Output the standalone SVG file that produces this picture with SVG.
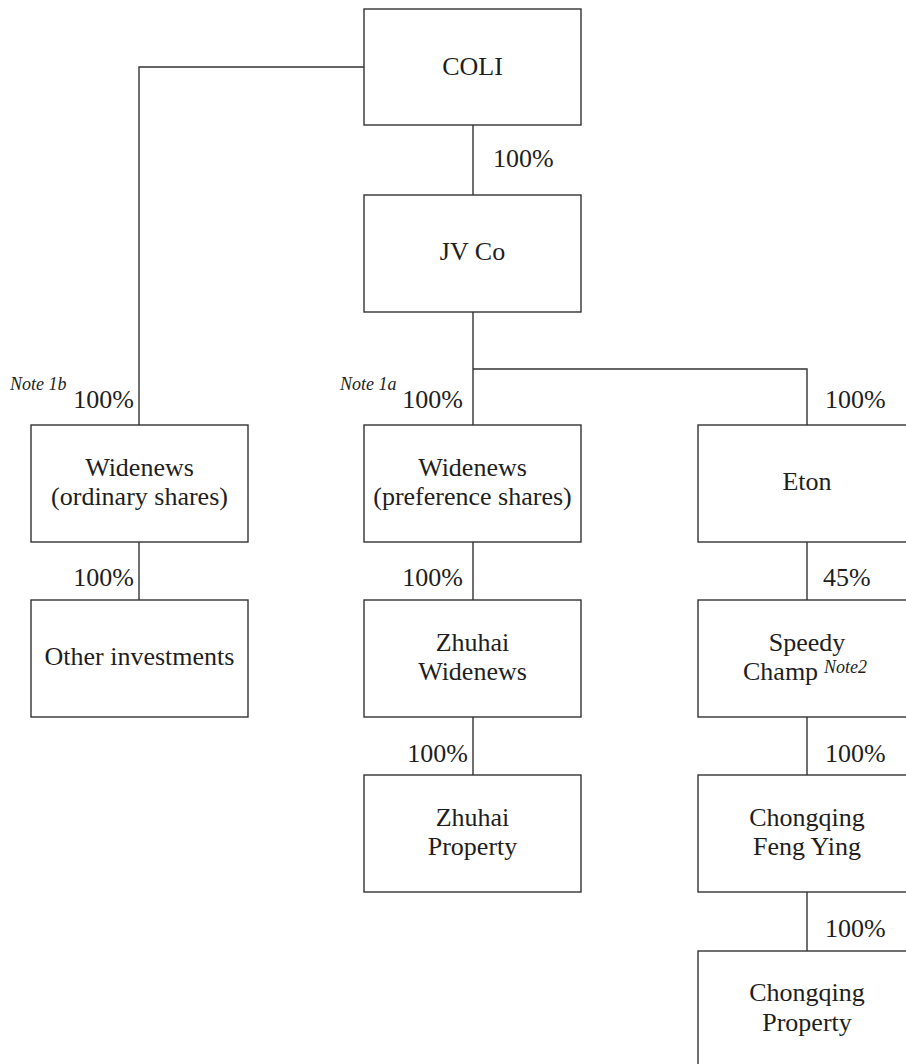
<svg xmlns="http://www.w3.org/2000/svg" width="906" height="1064" viewBox="0 0 906 1064">
<style>
.box{fill:#fff;stroke:#333;stroke-width:1.4}
.ln{fill:none;stroke:#333;stroke-width:1.4}
text{font-family:"Liberation Serif","Times New Roman",serif;fill:#1e1e1e}
.t{font-size:26px;text-anchor:middle}
.p{font-size:26px}
.pe{font-size:26px;text-anchor:end}
.n{font-size:18px;font-style:italic}
</style>
<rect width="906" height="1064" fill="#fff"/>
<g id="connectors">
<path class="ln" d="M364,67 H139 V425"/>
<path class="ln" d="M473,125 V195"/>
<path class="ln" d="M473,312 V425"/>
<path class="ln" d="M473,369 H807 V425"/>
<path class="ln" d="M139,542 V600"/>
<path class="ln" d="M473,542 V600"/>
<path class="ln" d="M807,542 V600"/>
<path class="ln" d="M473,717 V775"/>
<path class="ln" d="M807,717 V775"/>
<path class="ln" d="M807,892 V951"/>
<text class="p" x="493" y="167">100%</text>
<text class="n" x="10" y="390">Note 1b</text>
<text class="pe" x="134" y="408">100%</text>
<text class="n" x="340" y="390">Note 1a</text>
<text class="pe" x="463" y="408">100%</text>
<text class="p" x="825" y="408">100%</text>
<text class="pe" x="134" y="586">100%</text>
<text class="pe" x="463" y="586">100%</text>
<text class="p" x="823" y="586">45%</text>
<text class="pe" x="468" y="762">100%</text>
<text class="p" x="825" y="762">100%</text>
<text class="p" x="825" y="937">100%</text>
</g>
<g id="coli"><rect class="box" x="364" y="9" width="217" height="116"/><text class="t" x="472.5" y="75">COLI</text></g>
<g id="jvco"><rect class="box" x="364" y="195" width="217" height="117"/><text class="t" x="472.5" y="260">JV Co</text></g>
<g id="widenews-ord"><rect class="box" x="31" y="425" width="217" height="117"/><text class="t" x="139.5" y="476">Widenews</text><text class="t" x="139.5" y="505">(ordinary shares)</text></g>
<g id="widenews-pref"><rect class="box" x="364" y="425" width="217" height="117"/><text class="t" x="472.5" y="476">Widenews</text><text class="t" x="472.5" y="505">(preference shares)</text></g>
<g id="eton"><rect class="box" x="698" y="425" width="218" height="117"/><text class="t" x="807" y="490">Eton</text></g>
<g id="other-investments"><rect class="box" x="31" y="600" width="217" height="117"/><text class="t" x="139.5" y="665">Other investments</text></g>
<g id="zhuhai-widenews"><rect class="box" x="364" y="600" width="217" height="117"/><text class="t" x="472.5" y="651">Zhuhai</text><text class="t" x="472.5" y="680">Widenews</text></g>
<g id="speedy-champ"><rect class="box" x="698" y="600" width="218" height="117"/><text class="t" x="807" y="651">Speedy</text><text class="p" x="743" y="680">Champ<tspan class="n" dx="6" dy="-7">Note2</tspan></text></g>
<g id="zhuhai-property"><rect class="box" x="364" y="775" width="217" height="117"/><text class="t" x="472.5" y="826">Zhuhai</text><text class="t" x="472.5" y="855">Property</text></g>
<g id="chongqing-feng-ying"><rect class="box" x="698" y="775" width="218" height="117"/><text class="t" x="807" y="826">Chongqing</text><text class="t" x="807" y="855">Feng Ying</text></g>
<g id="chongqing-property"><rect class="box" x="698" y="951" width="218" height="117"/><text class="t" x="807" y="1001">Chongqing</text><text class="t" x="807" y="1031">Property</text></g>
</svg>
